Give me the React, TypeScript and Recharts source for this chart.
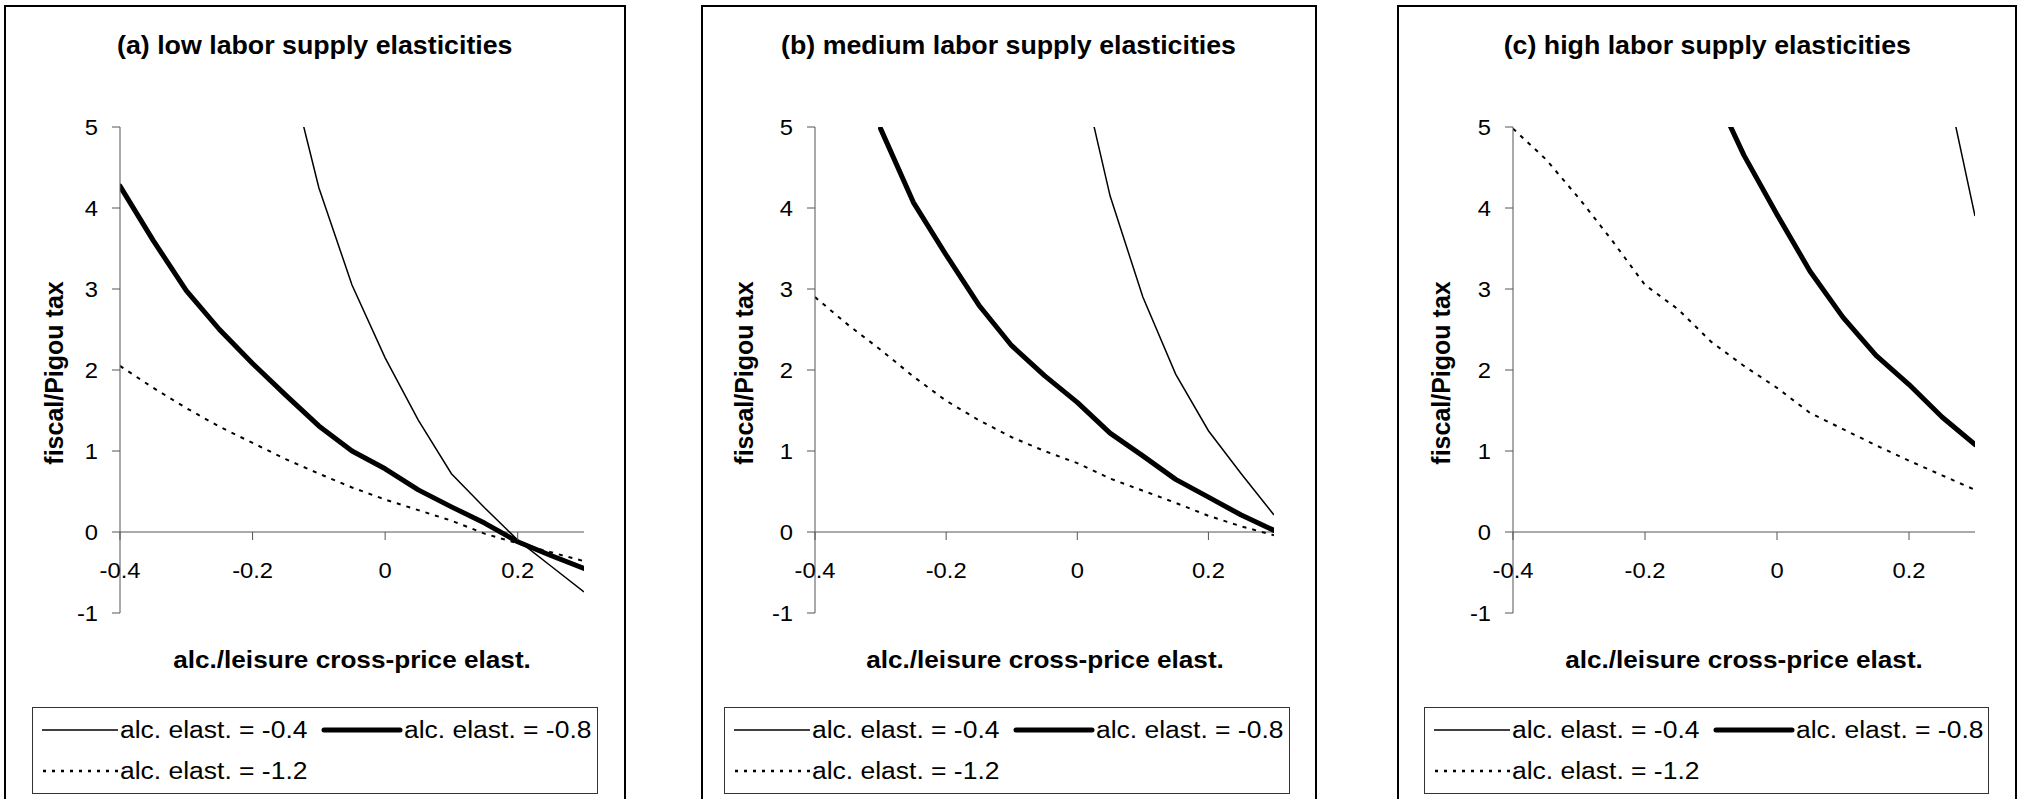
import { LineChart, Line, XAxis, YAxis, ReferenceLine } from 'recharts'

// x grid: alc./leisure cross-price elasticity
const X_VALUES = [-0.4, -0.35, -0.3, -0.25, -0.2, -0.15, -0.1, -0.05, 0, 0.05, 0.1, 0.15, 0.2, 0.25, 0.3]
const X_TICKS = [-0.4, -0.2, 0, 0.2]
const Y_TICKS = [-1, 0, 1, 2, 3, 4, 5]

const SERIES_NAMES = ['alc. elast. = -0.4', 'alc. elast. = -0.8', 'alc. elast. = -1.2']
const PANEL_TITLES = [
  '(a) low labor supply elasticities',
  '(b) medium labor supply elasticities',
  '(c) high labor supply elasticities',
]

// (a) low labor supply elasticities
const LOW_E04 = [null, null, null, null, null, 5.9, 4.25, 3.05, 2.15, 1.38, 0.72, 0.3, -0.1, -0.42, -0.74]
const LOW_E08 = [4.27, 3.6, 2.98, 2.5, 2.08, 1.69, 1.31, 1.0, 0.78, 0.52, 0.31, 0.11, -0.12, -0.29, -0.45]
const LOW_E12 = [2.05, 1.78, 1.53, 1.3, 1.1, 0.9, 0.72, 0.55, 0.4, 0.27, 0.14, -0.02, -0.14, -0.25, -0.36]

// (b) medium labor supply elasticities
const MED_E04 = [null, null, null, null, null, null, null, null, 5.9, 4.15, 2.9, 1.95, 1.25, 0.72, 0.21]
const MED_E08 = [null, null, 4.98, 4.07, 3.42, 2.8, 2.3, 1.93, 1.6, 1.22, 0.94, 0.65, 0.43, 0.21, 0.02]
const MED_E12 = [2.9, 2.56, 2.25, 1.92, 1.62, 1.38, 1.17, 1.0, 0.85, 0.66, 0.51, 0.36, 0.2, 0.07, -0.04]

// (c) high labor supply elasticities
const HIGH_E04 = [null, null, null, null, null, null, null, null, null, null, null, null, null, 5.8, 3.9]
const HIGH_E08 = [null, null, null, null, null, null, 5.52, 4.65, 3.92, 3.22, 2.65, 2.18, 1.82, 1.42, 1.08]
const HIGH_E12 = [4.98, 4.6, 4.12, 3.6, 3.05, 2.75, 2.35, 2.05, 1.78, 1.47, 1.27, 1.07, 0.88, 0.7, 0.52]

const FONT = '"Liberation Sans", Arial, Helvetica, sans-serif'
const AXIS_COLOR = '#555'
const Y_MIN = -1
const Y_MAX = 5
const PLOT_TOP = 127
const PLOT_BOTTOM = 613
const PLOT_H = PLOT_BOTTOM - PLOT_TOP
const ZERO_OFFSET = (PLOT_H * (0 - Y_MIN)) / (Y_MAX - Y_MIN)
const Y_AXIS_W = 60
const X_AXIS_H = 30
const PAGE_H = 799

const layouts = [
  { left: 4, width: 622, plotLeft: 120, plotRight: 584, legendLeft: 32, legendRight: 598, yLabelX: 54 },
  { left: 701, width: 616, plotLeft: 815, plotRight: 1274, legendLeft: 724, legendRight: 1290, yLabelX: 744 },
  { left: 1397, width: 620, plotLeft: 1513, plotRight: 1975, legendLeft: 1424, legendRight: 1989, yLabelX: 1441 },
]

const panelData = [
  [LOW_E04, LOW_E08, LOW_E12],
  [MED_E04, MED_E08, MED_E12],
  [HIGH_E04, HIGH_E08, HIGH_E12],
]

function XTick(props: any) {
  const { x, y, payload } = props
  const y0 = y - ZERO_OFFSET
  return (
    <g>
      <line x1={x} x2={x} y1={y0} y2={y0 + 8} stroke={AXIS_COLOR} />
      <text
        transform={`translate(${x} ${y0 + 46}) scale(1.08 1)`}
        textAnchor="middle"
        fontSize={22}
        fontFamily={FONT}
        fill="#000"
      >
        {String(payload.value)}
      </text>
    </g>
  )
}

function YTick(props: any) {
  const { x, y, payload } = props
  return (
    <text
      transform={`translate(${x} ${y}) scale(1.08 1)`}
      textAnchor="end"
      dy="0.36em"
      fontSize={22}
      fontFamily={FONT}
      fill="#000"
    >
      {String(payload.value)}
    </text>
  )
}

function Sample({ kind }: { kind: number }) {
  if (kind === 0)
    return (
      <svg width={76} height={10} style={{ display: 'block' }}>
        <line x1={0} x2={76} y1={5} y2={5} stroke="#000" strokeWidth={1.5} />
      </svg>
    )
  if (kind === 1)
    return (
      <svg width={82} height={10} style={{ display: 'block' }}>
        <line x1={3} x2={79} y1={5} y2={5} stroke="#000" strokeWidth={5} strokeLinecap="round" />
      </svg>
    )
  return (
    <svg width={76} height={10} style={{ display: 'block' }}>
      <line x1={1} x2={76} y1={5} y2={5} stroke="#000" strokeWidth={2.5} strokeDasharray="3 6" />
    </svg>
  )
}

function LegendEntry({ kind, left, top, textLeft }: { kind: number; left: number; top: number; textLeft: number }) {
  return (
    <>
      <div style={{ position: 'absolute', left, top: top - 5 }}>
        <Sample kind={kind} />
      </div>
      <div
        style={{
          position: 'absolute',
          left: textLeft,
          top,
          fontSize: 23,
          fontFamily: FONT,
          whiteSpace: 'nowrap',
          lineHeight: '26px',
          transform: 'translateY(-50%) scaleX(1.15)',
          transformOrigin: 'left center',
        }}
      >
        {SERIES_NAMES[kind]}
      </div>
    </>
  )
}

function Panel({ idx }: { idx: number }) {
  const L = layouts[idx]
  const [s04, s08, s12] = panelData[idx]
  const rows = X_VALUES.map((x, i) => ({ x, e04: s04[i], e08: s08[i], e12: s12[i] }))
  const plotCenter = (L.plotLeft + L.plotRight) / 2

  return (
    <>
      <div
        style={{
          position: 'absolute',
          left: L.left,
          top: 5,
          width: L.width,
          height: 820,
          border: '2px solid #000',
          boxSizing: 'border-box',
        }}
      />
      <div
        style={{
          position: 'absolute',
          left: L.left,
          top: 45,
          width: L.width,
          textAlign: 'center',
          transform: 'translateY(-50%)',
        }}
      >
        <span
          style={{
            display: 'inline-block',
            fontFamily: FONT,
            fontWeight: 'bold',
            fontSize: 25,
            whiteSpace: 'nowrap',
            transform: 'scaleX(1.07)',
          }}
        >
          {PANEL_TITLES[idx]}
        </span>
      </div>
      <div style={{ position: 'absolute', left: L.left, top: 0 }}>
        <LineChart
          width={L.width}
          height={PAGE_H}
          data={rows}
          margin={{
            top: PLOT_TOP,
            left: L.plotLeft - L.left - Y_AXIS_W,
            right: L.left + L.width - L.plotRight,
            bottom: PAGE_H - PLOT_BOTTOM - X_AXIS_H,
          }}
        >
          <XAxis
            dataKey="x"
            type="number"
            domain={[-0.4, 0.3]}
            ticks={X_TICKS}
            interval={0}
            allowDataOverflow
            axisLine={false}
            tickLine={false}
            tickSize={0}
            tickMargin={0}
            height={X_AXIS_H}
            tick={<XTick />}
          />
          <YAxis
            type="number"
            domain={[Y_MIN, Y_MAX]}
            ticks={Y_TICKS}
            interval={0}
            allowDataOverflow
            width={Y_AXIS_W}
            tickSize={8}
            tickMargin={14}
            axisLine={{ stroke: AXIS_COLOR }}
            tickLine={{ stroke: AXIS_COLOR }}
            tick={<YTick />}
          />
          <ReferenceLine y={0} stroke={AXIS_COLOR} strokeWidth={1} />
          <Line
            type="linear"
            dataKey="e04"
            name={SERIES_NAMES[0]}
            stroke="#000"
            strokeWidth={1.5}
            dot={false}
            isAnimationActive={false}
          />
          <Line
            type="linear"
            dataKey="e08"
            name={SERIES_NAMES[1]}
            stroke="#000"
            strokeWidth={5}
            strokeLinejoin="round"
            strokeLinecap="round"
            dot={false}
            isAnimationActive={false}
          />
          <Line
            type="linear"
            dataKey="e12"
            name={SERIES_NAMES[2]}
            stroke="#000"
            strokeWidth={2}
            strokeDasharray="4 6"
            dot={false}
            isAnimationActive={false}
          />
        </LineChart>
      </div>
      <div
        style={{
          position: 'absolute',
          left: L.yLabelX,
          top: 373,
          transform: 'translate(-50%, -50%) scaleX(1.05) rotate(-90deg)',
          fontFamily: FONT,
          fontWeight: 'bold',
          fontSize: 25,
          whiteSpace: 'nowrap',
        }}
      >
        fiscal/Pigou tax
      </div>
      <div
        style={{
          position: 'absolute',
          left: plotCenter,
          top: 660,
          transform: 'translate(-50%, -50%) scaleX(1.09)',
          fontFamily: FONT,
          fontWeight: 'bold',
          fontSize: 24,
          whiteSpace: 'nowrap',
        }}
      >
        alc./leisure cross-price elast.
      </div>
      <div
        style={{
          position: 'absolute',
          left: L.legendLeft,
          top: 707,
          width: L.legendRight - L.legendLeft,
          height: 87,
          border: '1px solid #333',
          boxSizing: 'border-box',
          background: '#fff',
        }}
      >
        <LegendEntry kind={0} left={9} top={22} textLeft={87} />
        <LegendEntry kind={1} left={288} top={22} textLeft={371} />
        <LegendEntry kind={2} left={9} top={63} textLeft={87} />
      </div>
    </>
  )
}

export default function App() {
  return (
    <div
      style={{
        position: 'fixed',
        left: 0,
        top: 0,
        width: 2018,
        height: PAGE_H,
        overflow: 'hidden',
        background: '#fff',
      }}
    >
      {[0, 1, 2].map((i) => (
        <Panel key={i} idx={i} />
      ))}
    </div>
  )
}
